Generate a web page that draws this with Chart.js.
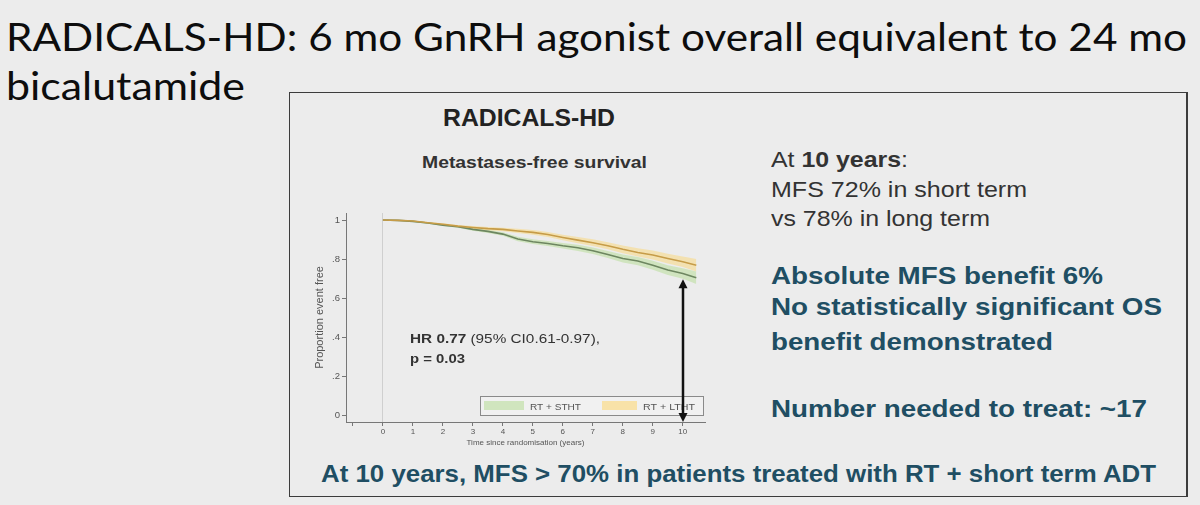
<!DOCTYPE html>
<html>
<head>
<meta charset="utf-8">
<title>RADICALS-HD</title>
<script src="https://cdn.jsdelivr.net/npm/chart.js@4.4.1/dist/chart.umd.min.js"></script>
<style>
  html, body { margin: 0; padding: 0; }
  body {
    width: 1200px; height: 505px; position: relative; overflow: hidden;
    background: #ececec;
    font-family: "Liberation Sans", Arial, sans-serif;
  }
  .txt { position: absolute; white-space: nowrap; transform-origin: 0 0; line-height: 1; }
  .title { font-family: Lato, "Open Sans", sans-serif; font-size: 39px; color: #0d0d0d; }
  .dark { font-size: 21.5px; color: #333; }
  .teal { font-size: 24.5px; font-weight: bold; color: #204e63; }
  .mark { display: inline-block; width: 0; height: 0; vertical-align: baseline; }
  #box {
    position: absolute; left: 289px; top: 92px; width: 899px; height: 405px;
    box-sizing: border-box; border: 1.5px solid #3c3c3c; border-right-width: 2px;
  }
  #chartWrap { position: absolute; left: 296px; top: 200px; width: 420px; height: 250px; }
</style>
</head>
<body>

<div class="txt title" data-x="6" data-base="51" data-w="1181">RADICALS-HD: 6 mo GnRH agonist overall equivalent to 24 mo</div>
<div class="txt title" data-x="6" data-base="100" data-w="239">bicalutamide</div>

<div id="box"></div>

<div class="txt" style="font-size:24.5px;font-weight:bold;color:#222" data-x="443" data-base="125.7" data-w="172">RADICALS-HD</div>
<div class="txt" style="font-size:17px;font-weight:bold;color:#333" data-x="422" data-base="168.3" data-w="225">Metastases-free survival</div>

<div class="txt dark" data-x="771" data-base="167.3" data-w="137">At <b>10 years</b>:</div>
<div class="txt dark" data-x="771" data-base="196.7" data-w="256">MFS 72% in short term</div>
<div class="txt dark" data-x="771" data-base="226" data-w="219">vs 78% in long term</div>

<div class="txt teal" data-x="771" data-base="284.3" data-w="332">Absolute MFS benefit 6%</div>
<div class="txt teal" data-x="771" data-base="315" data-w="391">No statistically significant OS</div>
<div class="txt teal" data-x="771" data-base="349.5" data-w="282">benefit demonstrated</div>
<div class="txt teal" data-x="771" data-base="416.7" data-w="376">Number needed to treat: ~17</div>

<div class="txt teal" data-x="321" data-base="482" data-w="835">At 10 years, MFS &gt; 70% in patients treated with RT + short term ADT</div>

<div id="chartWrap"><canvas id="kmChart" width="420" height="250"></canvas></div>

<script>
// data kurva Kaplan-Meier
const years = [0, 0.5, 1, 1.5, 2, 2.5, 3, 3.5, 4, 4.5, 5, 5.5, 6, 6.5, 7, 7.5, 8, 8.5, 9, 9.5, 10, 10.45];

const sthtMfs   = [1.0, 0.998, 0.993, 0.985, 0.974, 0.966, 0.952, 0.942, 0.928, 0.903, 0.889, 0.880, 0.868, 0.858, 0.843, 0.824, 0.803, 0.790, 0.769, 0.744, 0.726, 0.704];
const sthtUpper = [1.0, 1.0, 0.996, 0.989, 0.979, 0.972, 0.959, 0.950, 0.937, 0.914, 0.901, 0.893, 0.882, 0.874, 0.860, 0.842, 0.823, 0.811, 0.792, 0.769, 0.753, 0.736];
const sthtLower = [1.0, 0.996, 0.990, 0.981, 0.969, 0.960, 0.945, 0.934, 0.919, 0.892, 0.877, 0.867, 0.854, 0.842, 0.826, 0.806, 0.783, 0.769, 0.746, 0.719, 0.699, 0.672];

const lthtMfs   = [1.0, 0.998, 0.995, 0.986, 0.978, 0.969, 0.962, 0.956, 0.952, 0.944, 0.937, 0.926, 0.911, 0.897, 0.884, 0.868, 0.850, 0.834, 0.821, 0.803, 0.786, 0.769];
const lthtUpper = [1.0, 1.0, 0.998, 0.990, 0.983, 0.975, 0.969, 0.964, 0.961, 0.955, 0.949, 0.939, 0.925, 0.913, 0.901, 0.886, 0.870, 0.855, 0.844, 0.828, 0.813, 0.801];
const lthtLower = [1.0, 0.996, 0.992, 0.982, 0.973, 0.963, 0.955, 0.948, 0.943, 0.933, 0.925, 0.913, 0.897, 0.881, 0.867, 0.850, 0.830, 0.813, 0.798, 0.778, 0.759, 0.737];

const seriesLabels = ['RT + STHT', 'RT + LTHT'];
const xTicks = [-1, 0, 1, 2, 3, 4, 5, 6, 7, 8, 9, 10];
const yTicks = [0, 0.2, 0.4, 0.6, 0.8, 1];

const greenLine = '#6d8660';
const greenBand = 'rgba(190, 224, 162, 0.6)';
const orangeLine = '#c69c48';
const orangeBand = 'rgba(249, 216, 130, 0.55)';

// Taruh teks HTML tepat di baseline dan lebar yang diinginkan
function placeText() {
    document.querySelectorAll('.txt').forEach((el) => {
        let mark = el.querySelector('.mark');
        if (!mark) {
            mark = document.createElement('span');
            mark.className = 'mark';
            el.appendChild(mark);
        }
        el.style.transform = 'none';
        el.style.left = el.dataset.x + 'px';
        el.style.top = '0px';
        const off = mark.getBoundingClientRect().bottom - el.getBoundingClientRect().top;
        el.style.top = (+el.dataset.base - off) + 'px';
        const sx = +el.dataset.w / el.getBoundingClientRect().width;
        el.style.transform = 'scaleX(' + sx + ')';
    });
}

function toPoints(values) {
    return years.map((x, i) => ({ x: x, y: values[i] }));
}

// gambar beberapa potongan teks dengan lebar total tertentu
function drawFitted(ctx, parts, x, base, width) {
    let total = 0;
    parts.forEach((p) => { ctx.font = p.font; total += ctx.measureText(p.text).width; });
    const sx = width ? width / total : 1;
    ctx.save();
    ctx.translate(x, base);
    ctx.scale(sx, 1);
    let cx = 0;
    parts.forEach((p) => {
        ctx.font = p.font;
        ctx.fillText(p.text, cx, 0);
        cx += ctx.measureText(p.text).width;
    });
    ctx.restore();
}

const extrasPlugin = {
    id: 'extras',
    afterDatasetsDraw(chart) {
        const { ctx, chartArea: a, scales: { x, y } } = chart;
        const fam = '"Liberation Sans", Arial, sans-serif';

        // teks hazard ratio
        ctx.save();
        ctx.fillStyle = '#333';
        ctx.textBaseline = 'alphabetic';
        drawFitted(ctx, [
            { text: 'HR 0.77 ', font: 'bold 13px ' + fam },
            { text: '(95% CI0.61-0.97),', font: '13px ' + fam }
        ], a.left + 64, y.getPixelForValue(0.371), 190);
        drawFitted(ctx, [{ text: 'p = 0.03', font: 'bold 13px ' + fam }], a.left + 64, y.getPixelForValue(0.268), 55);

        // legenda di dalam area plot
        const lx = a.left + 134, ly = a.bottom - 26, lw = 223, lh = 19;
        ctx.fillStyle = 'rgba(255, 255, 255, 0.25)';
        ctx.fillRect(lx, ly, lw, lh);
        ctx.strokeStyle = '#8a8a8a';
        ctx.lineWidth = 1;
        ctx.strokeRect(lx + 0.5, ly + 0.5, lw, lh);
        ctx.fillStyle = 'rgba(200, 226, 178, 0.8)';
        ctx.fillRect(lx + 4, ly + 5, 40, 9);
        ctx.fillStyle = 'rgba(250, 222, 150, 0.8)';
        ctx.fillRect(lx + 122, ly + 5, 35, 9);
        ctx.fillStyle = '#555';
        drawFitted(ctx, [{ text: seriesLabels[0], font: '9px ' + fam }], lx + 50, ly + 13.5, 51);
        drawFitted(ctx, [{ text: seriesLabels[1], font: '9px ' + fam }], lx + 163, ly + 13.5, 52);

        // panah dua arah di tahun ke-10
        const ax = Math.round(x.getPixelForValue(10));
        const top = y.getPixelForValue(0.697);
        const bot = a.bottom;
        ctx.strokeStyle = '#111';
        ctx.fillStyle = '#111';
        ctx.lineWidth = 2.5;
        ctx.beginPath();
        ctx.moveTo(ax, top + 7);
        ctx.lineTo(ax, bot - 7);
        ctx.stroke();
        ctx.beginPath();
        ctx.moveTo(ax, top);
        ctx.lineTo(ax - 4.5, top + 9);
        ctx.lineTo(ax + 4.5, top + 9);
        ctx.closePath();
        ctx.fill();
        ctx.beginPath();
        ctx.moveTo(ax, bot);
        ctx.lineTo(ax - 4.5, bot - 9);
        ctx.lineTo(ax + 4.5, bot - 9);
        ctx.closePath();
        ctx.fill();
        ctx.restore();
    }
};

function setupChart() {
    Chart.defaults.font.family = '"Liberation Sans", Arial, sans-serif';
    const ctx = document.getElementById('kmChart').getContext('2d');
    new Chart(ctx, {
        type: 'line',
        data: {
            datasets: [
                { label: seriesLabels[1], data: toPoints(lthtMfs), borderColor: orangeLine, borderWidth: 1.6, pointRadius: 0, fill: false },
                { label: seriesLabels[0], data: toPoints(sthtMfs), borderColor: greenLine, borderWidth: 1.6, pointRadius: 0, fill: false },
                { label: 'LTHT upper', data: toPoints(lthtUpper), borderWidth: 0, pointRadius: 0, backgroundColor: orangeBand, fill: '+1' },
                { label: 'LTHT lower', data: toPoints(lthtLower), borderWidth: 0, pointRadius: 0, fill: false },
                { label: 'STHT upper', data: toPoints(sthtUpper), borderWidth: 0, pointRadius: 0, backgroundColor: greenBand, fill: '+1' },
                { label: 'STHT lower', data: toPoints(sthtLower), borderWidth: 0, pointRadius: 0, fill: false }
            ]
        },
        options: {
            responsive: false,
            animation: false,
            devicePixelRatio: 1,
            layout: { padding: { top: 13, right: 11, left: 0, bottom: 0 } },
            plugins: {
                legend: { display: false },
                tooltip: { enabled: false }
            },
            scales: {
                x: {
                    type: 'linear',
                    min: -1.23,
                    max: 10.74,
                    afterBuildTicks: (s) => { s.ticks = xTicks.map((v) => ({ value: v })); },
                    afterFit: (s) => { s.height = 28; },
                    grid: {
                        color: (c) => (c.tick && c.tick.value === 0 ? '#cfcfcf' : 'rgba(0,0,0,0)'),
                        tickColor: '#777',
                        tickLength: 4
                    },
                    border: { color: '#777', width: 1 },
                    ticks: {
                        font: { size: 8 }, color: '#555', padding: 1, maxRotation: 0, autoSkip: false,
                        callback: (v) => (v < 0 ? '' : String(v))
                    },
                    title: { display: true, text: 'Time since randomisation (years)', font: { size: 8 }, color: '#555', padding: { top: 0, bottom: 2 } }
                },
                y: {
                    min: -0.034,
                    max: 1.036,
                    afterBuildTicks: (s) => { s.ticks = yTicks.map((v) => ({ value: v })); },
                    afterFit: (s) => { s.width = 50; },
                    grid: { drawOnChartArea: false, tickColor: '#777', tickLength: 4 },
                    border: { color: '#777', width: 1 },
                    ticks: {
                        font: { size: 9.5 }, color: '#555', padding: 2,
                        callback: (v) => (v === 0 ? '0' : v === 1 ? '1' : v.toFixed(1).replace(/^0/, ''))
                    },
                    title: { display: true, text: 'Proportion event free', font: { size: 11 }, color: '#555', padding: { top: 17, bottom: 0 } }
                }
            }
        },
        plugins: [extrasPlugin]
    });
}

document.addEventListener('DOMContentLoaded', () => {
    placeText();
    if (document.fonts && document.fonts.ready) {
        document.fonts.ready.then(placeText);
    }
    setupChart();
});
</script>
</body>
</html>
